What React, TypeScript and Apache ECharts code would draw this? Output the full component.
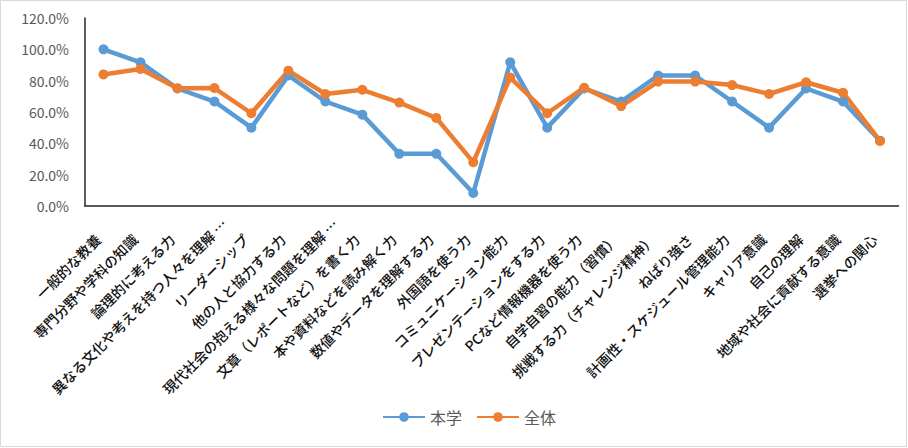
import React, { useEffect, useRef } from "react";
import * as echarts from "echarts";

const categories = [
  "一般的な教養",
  "専門分野や学科の知識",
  "論理的に考える力",
  "異なる文化や考えを持つ人々を理解 …",
  "リーダーシップ",
  "他の人と協力する力",
  "現代社会の抱える様々な問題を理解 …",
  "文章（レポートなど）を書く力",
  "本や資料などを読み解く力",
  "数値やデータを理解する力",
  "外国語を使う力",
  "コミュニケーション能力",
  "プレゼンテーションをする力",
  "PCなど情報機器を使う力",
  "自学自習の能力（習慣）",
  "挑戦する力（チャレンジ精神）",
  "ねばり強さ",
  "計画性・スケジュール管理能力",
  "キャリア意識",
  "自己の理解",
  "地域や社会に貢献する意識",
  "選挙への関心",
];

const honGaku = [100, 91.7, 75, 66.7, 50, 83.3, 66.7, 58.3, 33.3, 33.3, 8.3, 91.7, 50, 75, 66.7, 83.3, 83.3, 66.7, 50, 75, 66.7, 41.7];
const zentai = [84, 87.5, 75.2, 75.3, 59.2, 86.4, 71.5, 74.2, 66, 56.2, 28, 82, 59.2, 75.5, 63.8, 79.4, 79.4, 77.2, 71.5, 79, 72.3, 41.5];

const yTicks = { min: 0, max: 120, interval: 20 };

export default function App() {
  const ref = useRef<HTMLDivElement>(null);
  useEffect(() => {
    document.body.style.margin = "0";
    if (!ref.current) return;
    const chart = echarts.init(ref.current, undefined, { renderer: "svg" });
    const font = "'Noto Sans CJK JP', 'Noto Sans', sans-serif";
    const labelSize = 14;
    const labelWeight = 500;
    const ctx = document.createElement("canvas").getContext("2d");
    const measure = (t: string) => {
      if (!ctx) return t.length * labelSize;
      ctx.font = `${labelWeight} ${labelSize}px ${font}`;
      return ctx.measureText(t).width;
    };
    // Truncated labels (ending with …) sit further along their direction in the reference
    const catData = categories.map((c) =>
      c.endsWith("…")
        ? {
            value: c,
            textStyle: {
              align: "center",
              padding: [0, Math.max(0, measure(c) - 28), 0, 0],
            },
          }
        : c
    );
    chart.setOption({
      animation: false,
      textStyle: { fontFamily: font },
      graphic: [
        {
          type: "rect",
          shape: { x: 0.5, y: 0.5, width: 906, height: 446 },
          style: { fill: "none", stroke: "#d9d9d9", lineWidth: 1 },
          silent: true,
        },
      ],
      grid: { left: 85, right: 9.5, top: 18, bottom: 242, containLabel: false },
      legend: {
        bottom: 18,
        left: 377,
        itemWidth: 42,
        itemHeight: 12,
        itemGap: 14,
        textStyle: { fontSize: 16, color: "#595959", fontFamily: font },
        data: ["本学", "全体"],
      },
      xAxis: {
        type: "category",
        data: catData,
        boundaryGap: true,
        axisLine: { show: true, lineStyle: { color: "#262626", width: 1.5 } },
        axisTick: { show: false },
        axisLabel: {
          rotate: 45,
          interval: 0,
          margin: 25,
          padding: [0, 8, 0, 0],
          fontSize: labelSize,
          fontWeight: labelWeight,
          color: "#111",
          fontFamily: font,
        },
        splitLine: { show: false },
      },
      yAxis: {
        type: "value",
        min: yTicks.min,
        max: yTicks.max,
        interval: yTicks.interval,
        axisLine: { show: true, lineStyle: { color: "#262626", width: 1.5 } },
        axisTick: { show: false },
        splitLine: { show: false },
        axisLabel: {
          formatter: (v: number) => v.toFixed(1) + "%",
          fontSize: 14,
          color: "#595959",
          margin: 16,
          fontFamily: font,
        },
      },
      series: [
        {
          name: "本学",
          type: "line",
          data: honGaku,
          symbol: "circle",
          symbolSize: 10,
          lineStyle: { width: 4.5, color: "#5B9BD5" },
          itemStyle: { color: "#5B9BD5" },
        },
        {
          name: "全体",
          type: "line",
          data: zentai,
          symbol: "circle",
          symbolSize: 10,
          lineStyle: { width: 4.5, color: "#ED7D31" },
          itemStyle: { color: "#ED7D31" },
        },
      ],
    });
    return () => chart.dispose();
  }, []);
  return <div ref={ref} style={{ width: 908, height: 448 }} />;
}
